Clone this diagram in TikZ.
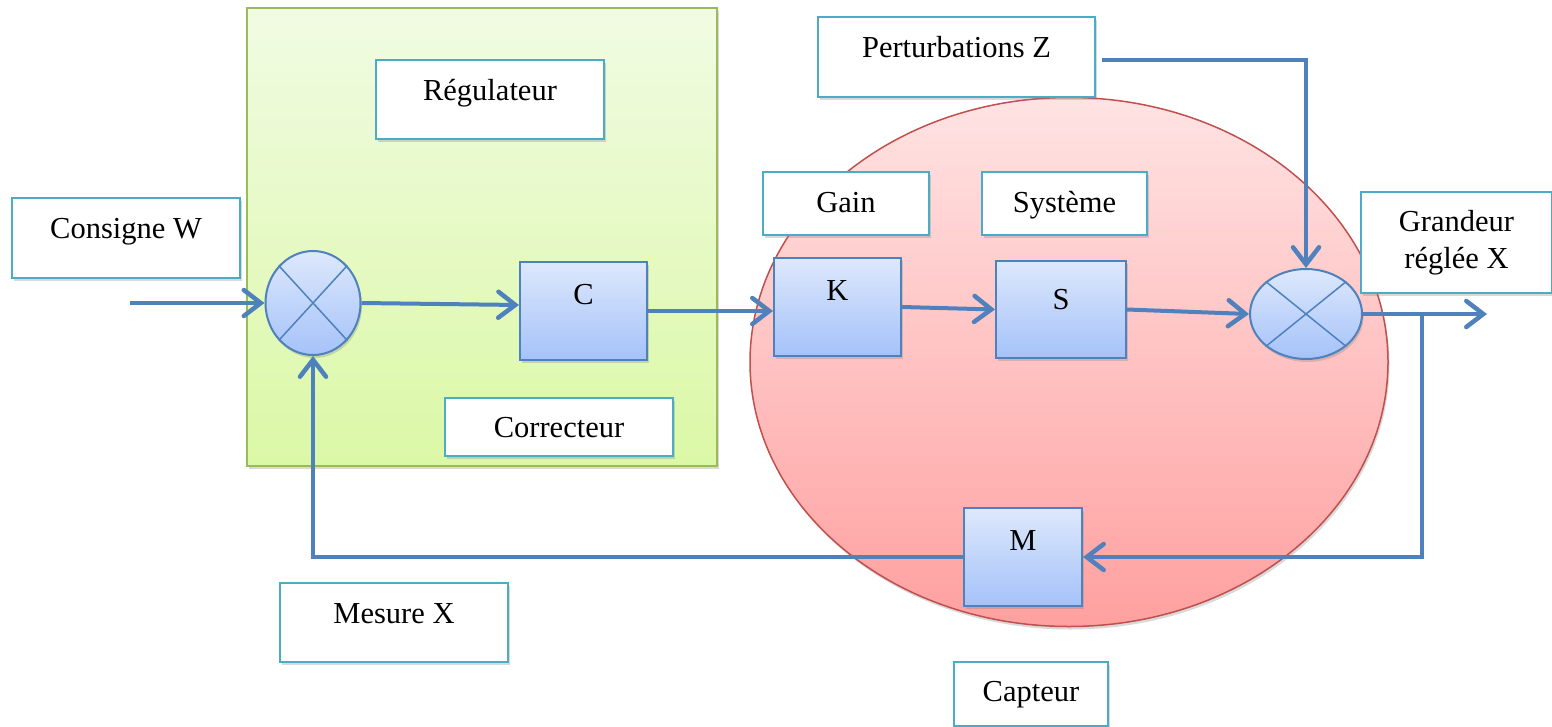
\documentclass[tikz,border=0pt]{standalone}
\usepackage{fontspec}
\setmainfont{Liberation Serif}
\usetikzlibrary{arrows.meta,shapes.geometric,shadows,positioning}

\definecolor{boxteal}{HTML}{4BACC6}
\definecolor{flowblue}{HTML}{4F81BD}
\definecolor{blocktop}{HTML}{DDE8FC}
\definecolor{blockbot}{HTML}{A5C2F9}
\definecolor{greentop}{HTML}{F1FBE3}
\definecolor{greenbot}{HTML}{DBF8A6}
\definecolor{greenline}{HTML}{9BBB59}
\definecolor{redtop}{HTML}{FFE3E3}
\definecolor{redbot}{HTML}{FFA0A0}
\definecolor{redline}{HTML}{C0504D}

\tikzset{
  softshadow/.style={drop shadow={shadow xshift=1.5pt,shadow yshift=-3pt,opacity=.3}},
  txtbox/.style={draw=boxteal,line width=2pt,fill=white,anchor=north west,
    inner sep=0pt,text height=40pt,softshadow},
  block/.style={draw=flowblue,line width=2pt,top color=blocktop,bottom color=blockbot,
    anchor=north west,inner sep=0pt,text height=42pt,softshadow},
  sumjct/.style={ellipse,draw=flowblue,line width=2pt,top color=blocktop,
    bottom color=blockbot,inner sep=0pt,softshadow},
  cross/.style={draw=flowblue,line width=1.5pt},
  flow/.style={draw=flowblue,line width=4pt,
    -{Straight Barb[length=17pt,width=26pt,line width=4.5pt,line cap=round]}},
}

\begin{document}
\begin{tikzpicture}[x=1pt,y=-1pt,font=\fontsize{30.5}{37}\selectfont]
  \useasboundingbox (0,0) rectangle (1552,726);
  % zones
  \draw[greenline,line width=1.5pt,top color=greentop,bottom color=greenbot,softshadow]
    (247,8) rectangle (717,466);
  \node[ellipse,draw=redline,line width=1.5pt,top color=redtop,bottom color=redbot,
    minimum width=638pt,minimum height=529pt,softshadow] (syszone) at (1069,362) {};

  % labels
  \node[txtbox,minimum width=228pt,text depth=40pt] (consigne) at (11,197) {Consigne W};
  \node[txtbox,minimum width=228pt,text depth=39pt] (regul) at (375,59) {Régulateur};
  \node[txtbox,minimum width=277pt,text depth=40pt] (pert) at (817,16) {Perturbations Z};
  \node[txtbox,minimum width=166pt,text depth=23pt] (gain) at (762,171) {Gain};
  \node[txtbox,minimum width=165pt,text depth=23pt] (syst) at (981,171) {Système};
  \node[txtbox,minimum width=191pt,text height=39pt,text depth=62pt] (grand) at (1360,191)
    {\begin{tabular}[t]{@{}c@{}}Grandeur\\réglée X\end{tabular}};
  \node[txtbox,minimum width=228pt,text height=39pt,text depth=19pt] (correc) at (444,397) {Correcteur};
  \node[txtbox,minimum width=228pt,text depth=39pt] (mesure) at (279,582) {Mesure X};
  \node[txtbox,minimum width=154pt,text height=39pt,text depth=25pt] (capteur) at (953,661) {Capteur};

  % blocs
  \node[block,minimum width=127pt,text depth=56pt] (C) at (519,261) {C};
  \node[block,minimum width=127pt,text depth=56pt] (K) at (773,257) {K};
  \node[block,minimum width=130pt,text height=48pt,text depth=49pt] (S) at (995,260) {S};
  \node[block,minimum width=118pt,text depth=56pt] (M) at (963,507) {M};

  \node[sumjct,minimum width=95pt,minimum height=104pt] (sumL) at (313,303) {};
  \node[sumjct,minimum width=112pt,minimum height=90pt] (sumR) at (1306,314) {};
  \draw[cross] (sumL.north east) -- (sumL.south west) (sumL.north west) -- (sumL.south east);
  \draw[cross] (sumR.north east) -- (sumR.south west) (sumR.north west) -- (sumR.south east);

  % liaisons
  \coordinate (in) at (130,303);
  \coordinate (out) at (1487,314);
  \coordinate (tap) at (1422,314);
  \draw[flow] (in) -- (sumL.west);
  \draw[flow] (sumL.east) -- ([yshift=-2pt]sumL.east -| C.west);
  \draw[flow] (C.east) -- (C.east -| K.west);
  \draw[flow] (K.east) -- (S.west);
  \draw[flow] (S.east) -- (sumR.west);
  \draw[flow] (sumR.east) -- (out);
  \draw[flow] ([shift={(6pt,-3pt)}]pert.east) -| (sumR.north);
  \draw[flow] (tap) |- (M.east);
  \draw[flow] (M.west) -| (sumL.south);
\end{tikzpicture}
\end{document}
